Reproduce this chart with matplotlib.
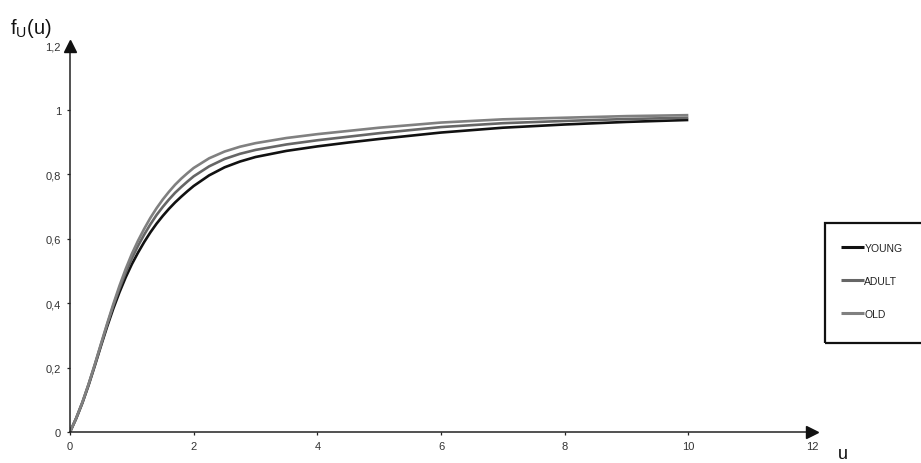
import matplotlib
matplotlib.use("Agg")
import matplotlib.pyplot as plt
from matplotlib.patches import Rectangle

plt.rcParams['font.family'] = ['Liberation Sans', 'DejaVu Sans']
plt.rcParams['mathtext.fontset'] = 'custom'
plt.rcParams['mathtext.rm'] = 'Liberation Sans'
plt.rcParams['mathtext.it'] = 'Liberation Sans'

# distribution functions per age group
u = [0, 0.1, 0.2, 0.3, 0.4, 0.5, 0.6, 0.7, 0.8, 0.9, 1.0, 1.1, 1.2, 1.3, 1.4,
     1.5, 1.6, 1.7, 1.8, 1.9, 2.0, 2.25, 2.5, 2.75, 3.0, 3.5, 4.0, 4.5, 5.0,
     6.0, 7.0, 8.0, 9.0, 10.0]
young = [0, 0.042, 0.090, 0.145, 0.205, 0.267, 0.327, 0.383, 0.434, 0.480,
         0.521, 0.557, 0.590, 0.620, 0.647, 0.671, 0.693, 0.713, 0.731, 0.748,
         0.764, 0.797, 0.822, 0.840, 0.854, 0.873, 0.887, 0.899, 0.910, 0.930,
         0.945, 0.955, 0.963, 0.969]
adult = [0, 0.043, 0.092, 0.148, 0.208, 0.271, 0.333, 0.392, 0.446, 0.495,
         0.539, 0.578, 0.613, 0.645, 0.674, 0.699, 0.722, 0.743, 0.761, 0.778,
         0.794, 0.825, 0.848, 0.864, 0.876, 0.893, 0.906, 0.917, 0.928, 0.947,
         0.959, 0.966, 0.972, 0.976]
old = [0, 0.043, 0.092, 0.148, 0.209, 0.273, 0.336, 0.397, 0.454, 0.506,
       0.553, 0.594, 0.631, 0.665, 0.695, 0.722, 0.746, 0.768, 0.787, 0.804,
       0.820, 0.850, 0.871, 0.886, 0.897, 0.913, 0.925, 0.935, 0.945, 0.961,
       0.971, 0.976, 0.981, 0.984]

names = ['YOUNG', 'ADULT', 'OLD']
colors = ['#111111', '#666666', '#808080']

xticks = [0, 2, 4, 6, 8, 10, 12]
yticks = [0, 0.2, 0.4, 0.6, 0.8, 1.0, 1.2]
ylabels = ['0', '0,2', '0,4', '0,6', '0,8', '1', '1,2']

W, H = 921, 464
fig = plt.figure(figsize=(W / 100, H / 100), dpi=100)
ax = fig.add_axes([70 / W, 31 / H, 742 / W, 386.4 / H])

lines = []
for series, name, c in zip([young, adult, old], names, colors):
    ln, = ax.plot(u, series, color=c, lw=1.9, label=name,
                  solid_capstyle='butt', solid_joinstyle='round')
    lines.append(ln)

ax.set_xlim(0, 12)
ax.set_ylim(0, 1.2)
ax.set_xticks(xticks)
ax.set_xticklabels([str(t) for t in xticks])
ax.set_yticks(yticks)
ax.set_yticklabels(ylabels)
ax.tick_params(labelsize=8, colors='#222222', labelcolor='#333333',
               length=2.5, width=0.9)
ax.tick_params(axis='x', pad=4)
ax.tick_params(axis='y', pad=4)
for s in ['top', 'right']:
    ax.spines[s].set_visible(False)
for s in ['left', 'bottom']:
    ax.spines[s].set_color('#222222')
    ax.spines[s].set_linewidth(1.1)

# arrow heads on the axes
ax.plot(12, 0, marker='>', ms=8, color='#111111', clip_on=False, zorder=5)
ax.plot(0, 1.2, marker='^', ms=8, color='#111111', clip_on=False, zorder=5)

fig.text(10 / W, 1 - 28 / H, r'$\mathregular{f_U(u)}$', fontsize=14.5,
         va='center', ha='left', color='#111111')
fig.text(843 / W, 0.5 / H, 'u', fontsize=13, va='bottom', ha='center',
         color='#111111')

# legend with box running off the right edge
leg = fig.legend(lines, names, loc='upper left',
                 bbox_to_anchor=(841 / W, 1 - 244 / H), frameon=False,
                 fontsize=7.5, handlelength=2.2, handletextpad=0.05,
                 labelspacing=2.2, borderpad=0, borderaxespad=0)
for t in leg.get_texts():
    t.set_color('#222222')
for h in leg.get_lines():
    h.set_linewidth(2.2)
fig.patches.append(Rectangle((825 / W, 1 - 344 / H), 110 / W, 120 / H,
                             transform=fig.transFigure, fill=False,
                             edgecolor='#111111', lw=1.6))

fig.savefig('out.png', dpi=100)
